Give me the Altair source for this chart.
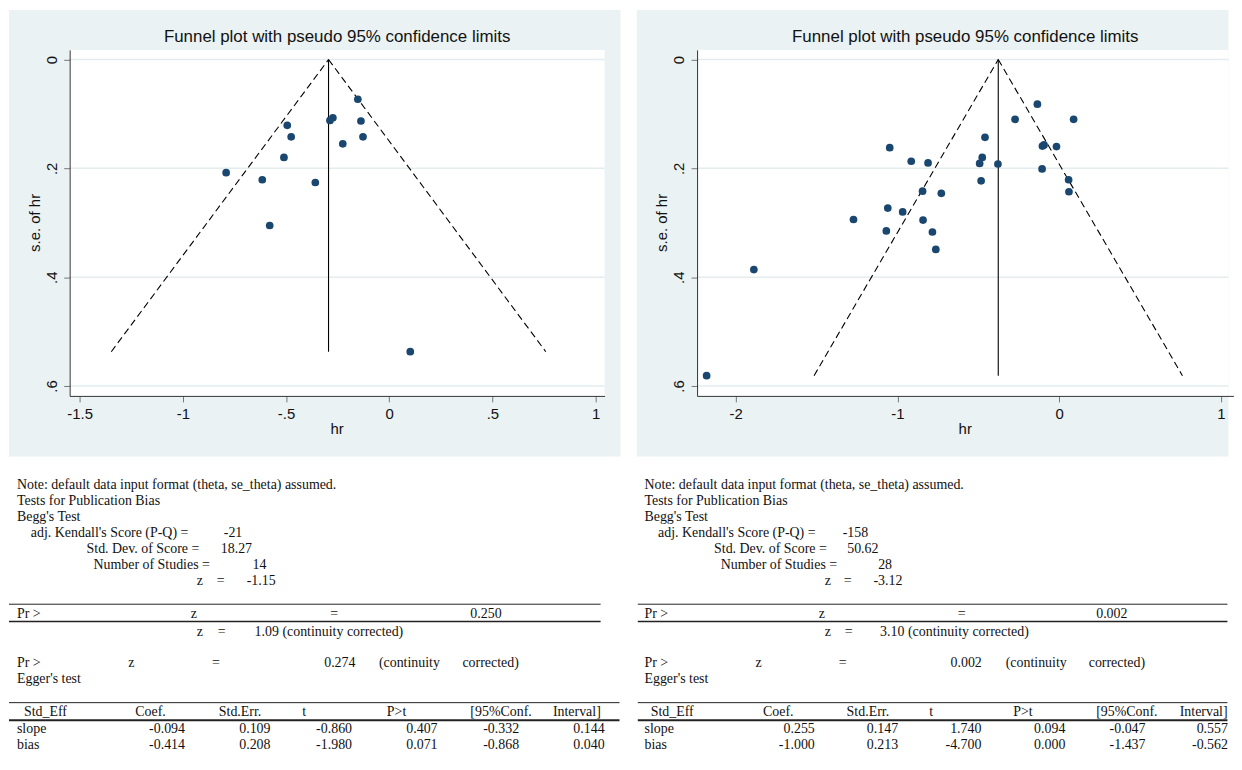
import json
import altair as alt
import pandas as pd

# ---------------- data ----------------
left_hr = [-0.152, -0.273, -0.287, -0.137, -0.494, -0.475, -0.127, -0.225, -0.510,
           -0.790, -0.615, -0.358, -0.579, 0.102]
left_se = [0.073, 0.107, 0.112, 0.113, 0.121, 0.142, 0.142, 0.155, 0.180,
           0.208, 0.221, 0.226, 0.305, 0.537]
left_pooled = -0.294
left_se_max = 0.537

right_hr = [-2.180, -1.888, -1.272, -1.069, -1.060, -1.048, -0.968, -0.915, -0.845,
            -0.842, -0.811, -0.784, -0.763, -0.729, -0.492, -0.483, -0.476, -0.459,
            -0.379, -0.273, -0.135, -0.106, -0.104, -0.094, -0.017, 0.058, 0.060, 0.089]
right_se = [0.581, 0.386, 0.294, 0.315, 0.273, 0.162, 0.280, 0.187, 0.242,
            0.295, 0.190, 0.317, 0.349, 0.246, 0.191, 0.223, 0.180, 0.143,
            0.192, 0.110, 0.082, 0.201, 0.159, 0.157, 0.160, 0.221, 0.243, 0.110]
right_pooled = -0.377
right_se_max = 0.581

left_x_ticks = [-1.5, -1, -0.5, 0, 0.5, 1]
left_x_labels = ["-1.5", "-1", "-.5", "0", ".5", "1"]
right_x_ticks = [-2, -1, 0, 1]
right_x_labels = ["-2", "-1", "0", "1"]
y_ticks = [0, 0.2, 0.4, 0.6]
y_labels = ["0", ".2", ".4", ".6"]

chart_title = "Funnel plot with pseudo 95% confidence limits"
x_title = "hr"
y_title = "s.e. of hr"

note_text = "Note: default data input format (theta, se_theta) assumed."
# Begg's test: score, sd, n, z, Pr>|z|, z (cc), Pr>|z| (cc)
left_begg = ["-21", "18.27", "14", "-1.15", "0.250", "1.09", "0.274"]
right_begg = ["-158", "50.62", "28", "-3.12", "0.002", "3.10", "0.002"]
egger_header = ["Std_Eff", "Coef.", "Std.Err.", "t", "P>t", "[95%Conf.", "Interval]"]
egger_rows = ["slope", "bias"]
left_slope = [-0.094, 0.109, -0.860, 0.407, -0.332, 0.144]
left_bias = [-0.414, 0.208, -1.980, 0.071, -0.868, 0.040]
right_slope = [0.255, 0.147, 1.740, 0.094, -0.047, 0.557]
right_bias = [-1.000, 0.213, -4.700, 0.000, -1.437, -0.562]

# ---------------- style / layout ----------------
BG = "#EAF2F3"
GRID = "#E3ECEE"
NAVY = "#1a476f"
SANS = "Liberation Sans"
SERIF = "Liberation Serif"
PLOT_TOP, PLOT_BOTTOM = 48, 396
PANEL_TOP, PANEL_BOTTOM = 8, 457
H = PLOT_BOTTOM - PLOT_TOP
Y_DOMAIN = [-0.0177, 0.6182]
TEXT_SHIFT = -2


def build_texts(begg, slope, bias, p):
    hdr_x = p["hdr"]
    rows = [
        (note_text, p["L"], 488, "left"),
        ("Tests for Publication Bias", p["L"], 504, "left"),
        ("Begg's Test", p["L"], 520, "left"),
        ("adj. Kendall's Score (P-Q) =", p["adj"][0], 536, "left"),
        (begg[0], p["adj"][1], 536, "left"),
        ("Std. Dev. of Score =", p["sd"][0], 552, "left"),
        (begg[1], p["sd"][1], 552, "left"),
        ("Number of Studies =", p["n"][0], 568, "left"),
        (begg[2], p["n"][1], 568, "left"),
        ("z", p["z1"][0], 584, "center"),
        ("=", p["z1"][1], 584, "center"),
        (begg[3], p["z1"][2], 584, "left"),
        ("Pr >", p["L"], 617, "left"),
        ("z", p["pr1"][0], 617, "center"),
        ("=", p["pr1"][1], 617, "center"),
        (begg[4], p["pr1"][2], 617, "left"),
        ("z", p["z2"][0], 635, "center"),
        ("=", p["z2"][1], 635, "center"),
        (begg[5] + " (continuity corrected)", p["z2"][2], 635, "left"),
        ("Pr >", p["L"], 667, "left"),
        ("z", p["pr2"][0], 667, "center"),
        ("=", p["pr2"][1], 667, "center"),
        (begg[6], p["pr2"][2], 667, "left"),
        ("(continuity", p["pr2"][3], 667, "left"),
        ("corrected)", p["pr2"][4], 667, "left"),
        ("Egger's test", p["L"], 683, "left"),
    ]
    for i, h in enumerate(egger_header):
        rows.append((h, hdr_x[i], 716, "center" if h == "t" else "left"))
    for name, vals, yy in [(egger_rows[0], slope, 733), (egger_rows[1], bias, 749)]:
        rows.append((name, p["L"], yy, "left"))
        for v, xe in zip(vals, p["vals"]):
            rows.append((f"{v:.3f}", xe, yy, "right"))
    return rows


left_pos = dict(L=16, adj=(30, 224), sd=(86, 221), n=(93, 253), z1=(200, 221, 247),
                pr1=(194, 335, 472), z2=(200, 222, 255), pr2=(131, 216, 325, 380, 464),
                hdr=[23, 135, 219, 305, 388, 472, 555],
                vals=[185, 271, 353, 439, 521, 607])
right_pos = dict(L=646.7, adj=(660.4, 846), sd=(716.7, 850.6), n=(723.4, 881.7),
                 z1=(831, 851, 877), pr1=(825, 965.6, 1101), z2=(831, 852, 883.7),
                 pr2=(761.6, 846, 954.5, 1010, 1093.5),
                 hdr=[653, 766, 850, 935, 1017.5, 1101, 1185],
                 vals=[818, 901.8, 985.6, 1070, 1150.6, 1233.5])

# page coordinates; the page keeps an 8px right margin, so content stops at 1234
left_lay = dict(ox=69, W=538, px0=8, px1=623, xdom=[-1.5482, 1.0434],
                rules=[(8, 603, 607.5, 1), (8, 603, 625, 1.5), (8, 622, 706.5, 1), (8, 622, 724.3, 2)])
right_lay = dict(ox=699.6, W=539.4, px0=639, px1=1234, xdom=[-2.2391, 1.0768],
                 rules=[(640, 1233, 607.5, 1), (640, 1233, 625, 1.5), (640, 1233, 706.5, 1), (640, 1233, 724.3, 2)])


def labexpr(labels, values):
    return f"{json.dumps(labels)}[indexof({json.dumps(values)}, datum.value)]"


def panel(hr, se, pooled, se_max, xt, xl, lay, texts):
    ox = lay["ox"]
    W = lay["W"]
    vis_w = min(W, lay["px1"] - ox)
    one = pd.DataFrame({"a": [0]})
    xs = alt.Scale(domain=lay["xdom"], nice=False, zero=False)
    ys = alt.Scale(domain=Y_DOMAIN, nice=False, zero=False, reverse=True)
    common = dict(grid=False, domainColor="#333", domainWidth=1, tickColor="#777",
                  tickSize=6, tickWidth=1, labelFont=SANS, labelFontSize=15,
                  labelColor="#111", labelPadding=4.5, zindex=1, labelFlush=False,
                  labelOverlap=False, title=None)
    xaxis = alt.Axis(values=xt, labelExpr=labexpr(xl, xt), **common)
    yaxis = alt.Axis(values=y_ticks, labelExpr=labexpr(y_labels, y_ticks), labelAngle=270,
                     labelAlign="center", labelBaseline="bottom", **common)

    bg = alt.Chart(one).mark_rect(color=BG).encode(
        x=alt.value(lay["px0"] - ox), x2=alt.value(lay["px1"] - ox),
        y=alt.value(PANEL_TOP - PLOT_TOP), y2=alt.value(PANEL_BOTTOM - PLOT_TOP))
    white = alt.Chart(one).mark_rect(color="white").encode(
        x=alt.value(0), x2=alt.value(vis_w), y=alt.value(0), y2=alt.value(H))
    grid = alt.Chart(pd.DataFrame({"g": y_ticks})).mark_rule(color=GRID, strokeWidth=1.5).encode(
        y=alt.Y("g:Q", scale=ys, axis=yaxis), x=alt.value(0), x2=alt.value(vis_w))

    fdf = pd.DataFrame({
        "hr": [pooled - 1.96 * se_max, pooled, pooled, pooled + 1.96 * se_max],
        "se": [se_max, 0, 0, se_max],
        "side": ["L", "L", "R", "R"],
    })
    funnel = alt.Chart(fdf).mark_line(color="black", strokeWidth=1.1, strokeDash=[7, 4]).encode(
        x=alt.X("hr:Q", scale=xs, axis=xaxis), y=alt.Y("se:Q", scale=ys, axis=yaxis),
        detail="side:N")
    vdf = pd.DataFrame({"hr": [pooled], "s0": [0.0], "s1": [se_max]})
    vline = alt.Chart(vdf).mark_rule(color="black", strokeWidth=1.1).encode(
        x=alt.X("hr:Q", scale=xs, axis=xaxis), y=alt.Y("s0:Q", scale=ys, axis=yaxis), y2="s1:Q")
    pts = alt.Chart(pd.DataFrame({"hr": hr, "se": se})).mark_circle(
        size=60, color=NAVY, opacity=1).encode(
        x=alt.X("hr:Q", scale=xs, axis=xaxis), y=alt.Y("se:Q", scale=ys, axis=yaxis))

    title = alt.Chart(one).mark_text(font=SANS, fontSize=17, color="#111", align="center",
                                     baseline="middle", text=chart_title).encode(
        x=alt.value(W / 2), y=alt.value(35 - PLOT_TOP))
    xtitle = alt.Chart(one).mark_text(font=SANS, fontSize=15, color="#111", align="center",
                                      baseline="middle", text=x_title).encode(
        x=alt.value(W / 2), y=alt.value(429 - PLOT_TOP))
    ytitle = alt.Chart(one).mark_text(font=SANS, fontSize=15, color="#111", align="center",
                                      baseline="middle", angle=270, text=y_title).encode(
        x=alt.value(-35), y=alt.value(H / 2))

    tdf = pd.DataFrame(texts, columns=["t", "px", "py", "al"])
    tdf["px"] = tdf["px"] - ox
    tdf["py"] = tdf["py"] - PLOT_TOP + TEXT_SHIFT
    tlayers = []
    for a in ["left", "center", "right"]:
        sub = tdf[tdf["al"] == a]
        tlayers.append(alt.Chart(sub).mark_text(font=SERIF, fontSize=14, color="#111", align=a,
                                                baseline="middle").encode(
            x=alt.X("px:Q", scale=None), y=alt.Y("py:Q", scale=None), text="t:N"))
    rdf = pd.DataFrame(lay["rules"], columns=["x0", "x1", "ry", "w"])
    rdf["x0"] = rdf["x0"] - ox
    rdf["x1"] = rdf["x1"] - ox
    rdf["ry"] = rdf["ry"] - PLOT_TOP + TEXT_SHIFT
    rules = alt.Chart(rdf).mark_rule(color="#222").encode(
        x=alt.X("x0:Q", scale=None), x2="x1:Q", y=alt.Y("ry:Q", scale=None),
        strokeWidth=alt.StrokeWidth("w:Q", scale=None))

    return alt.layer(bg, white, grid, funnel, vline, pts, title, xtitle, ytitle,
                     *tlayers, rules).properties(width=W, height=H)


left = panel(left_hr, left_se, left_pooled, left_se_max, left_x_ticks, left_x_labels,
             left_lay, build_texts(left_begg, left_slope, left_bias, left_pos))
right = panel(right_hr, right_se, right_pooled, right_se_max, right_x_ticks, right_x_labels,
              right_lay, build_texts(right_begg, right_slope, right_bias, right_pos))

# keep the page inside the 1242x770 window (no scrolling / rescaling)
chart = alt.hconcat(left, right, spacing=16).properties(
    padding={"left": 0, "top": 0, "right": 0, "bottom": -3}, background="white"
).configure_view(strokeWidth=0)

chart.save("out.html", embed_options={"renderer": "svg", "actions": False})
